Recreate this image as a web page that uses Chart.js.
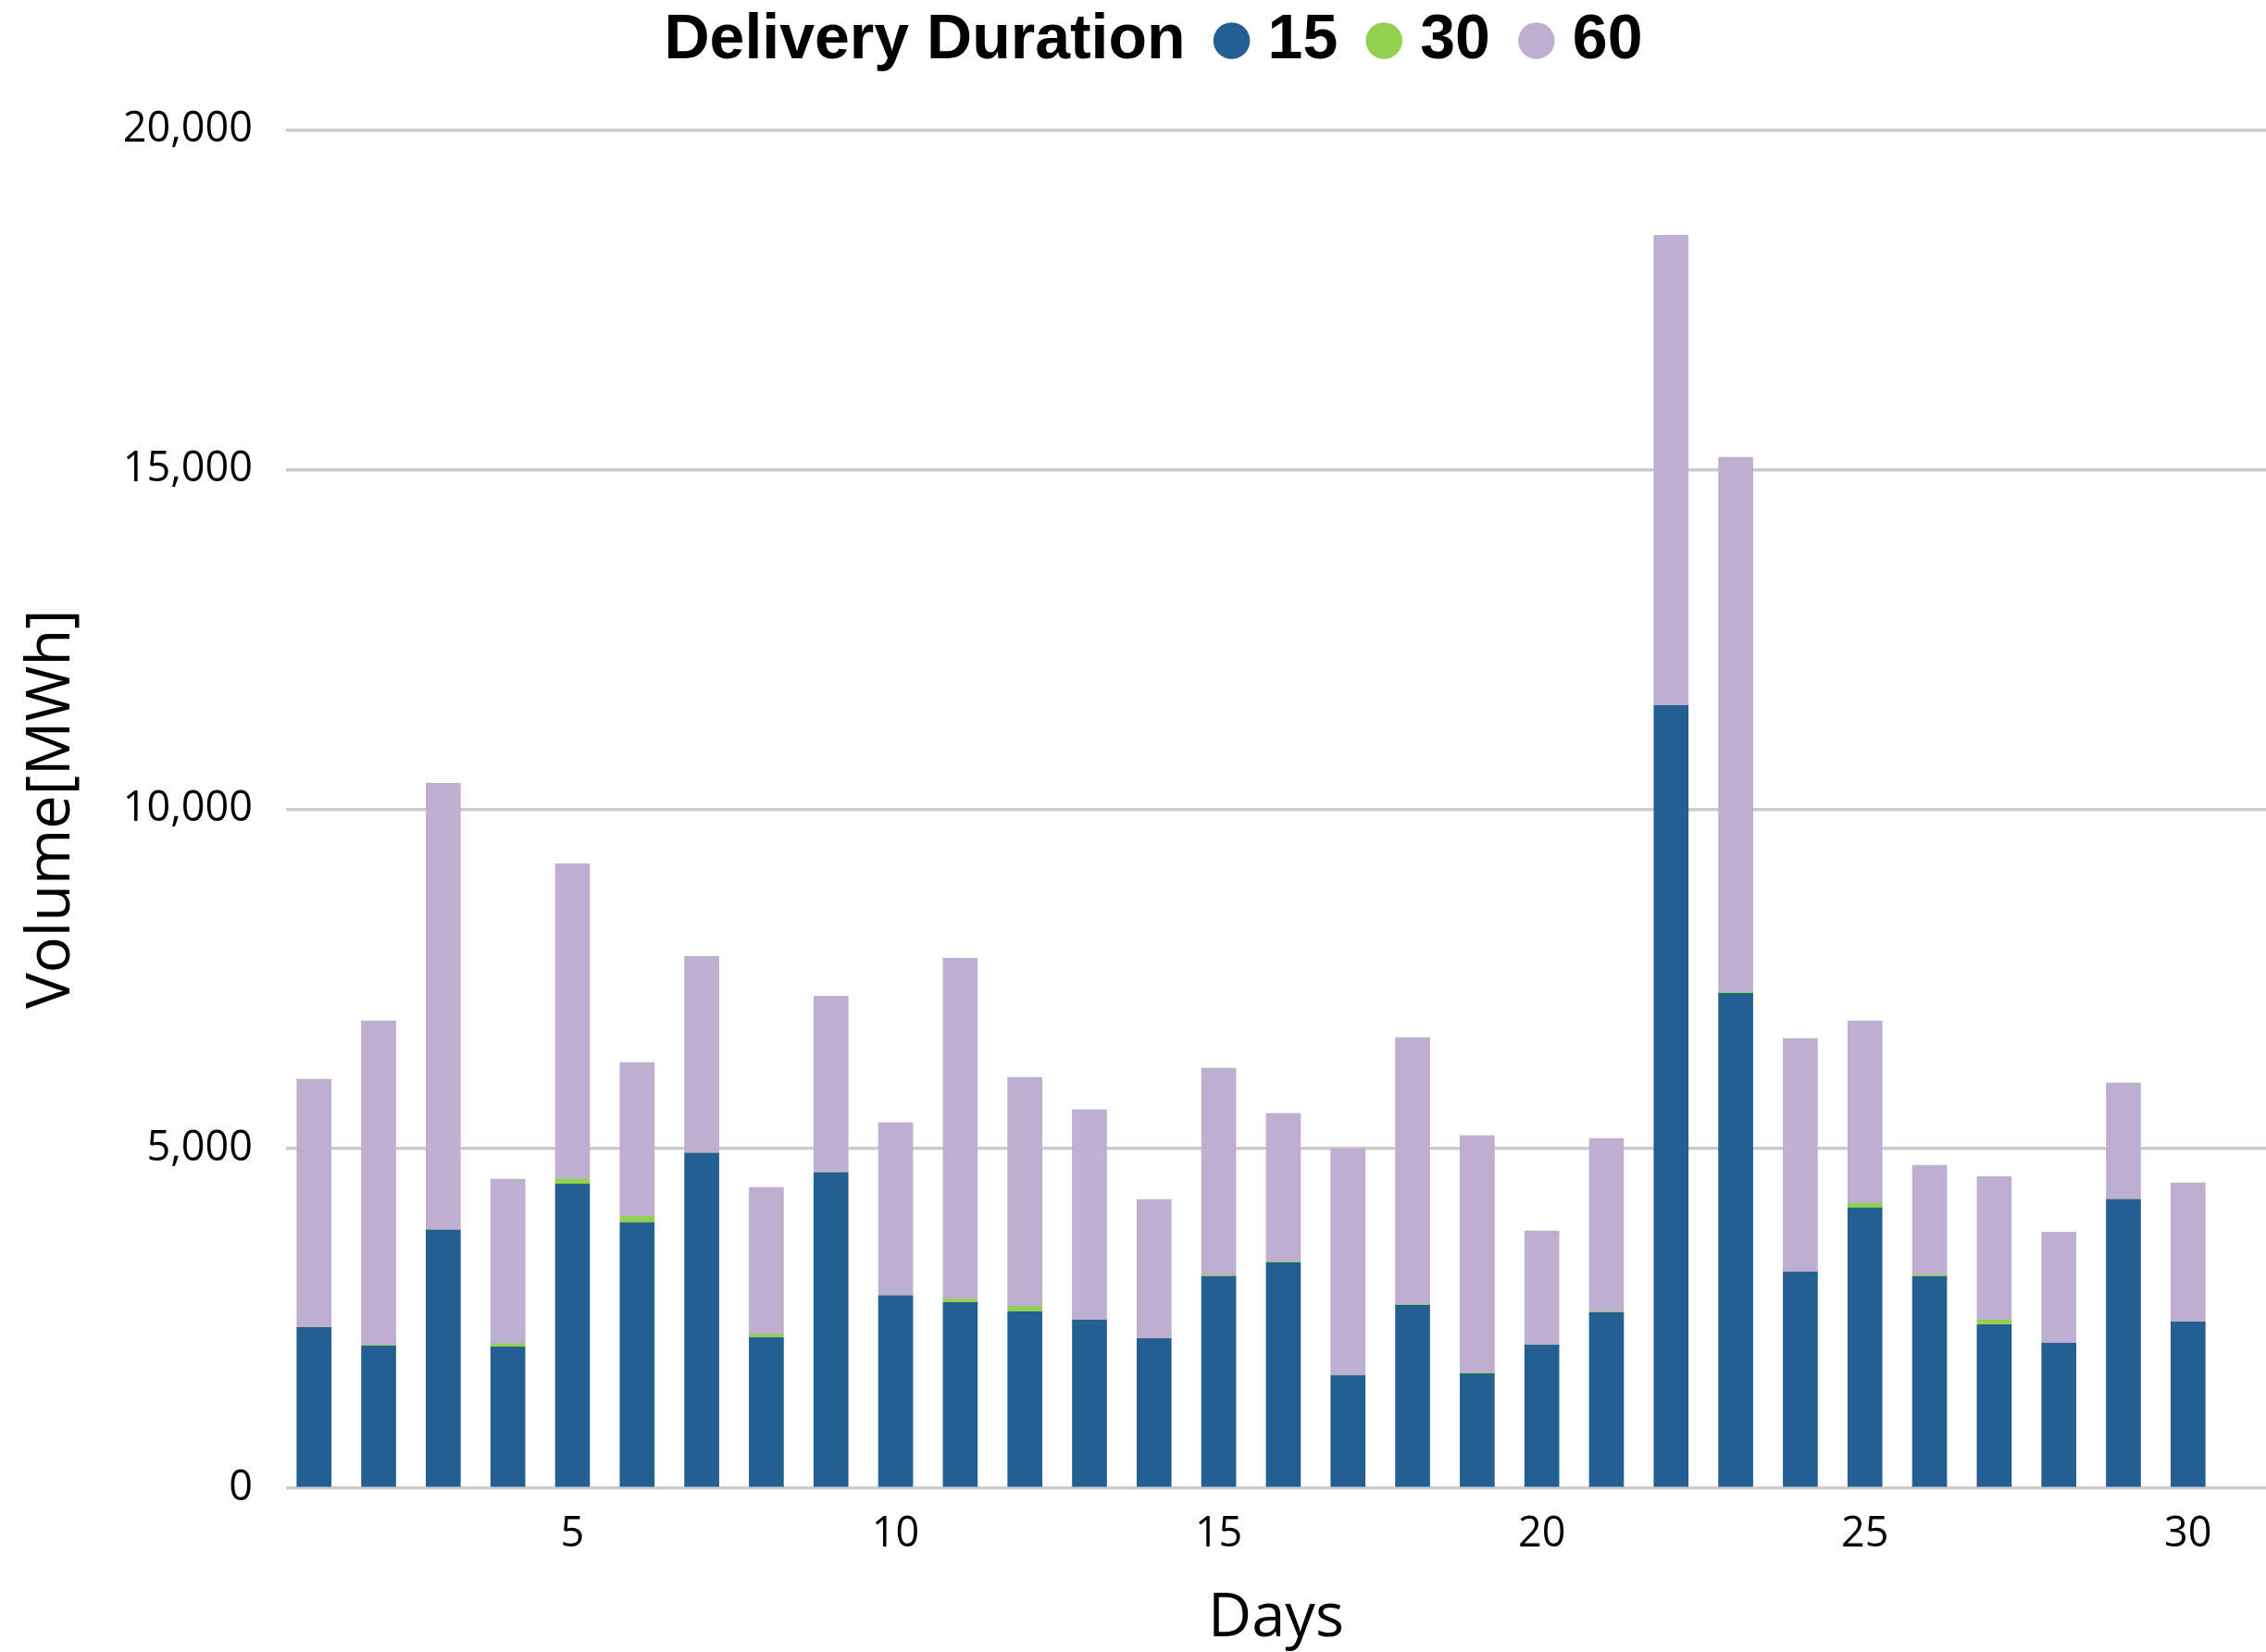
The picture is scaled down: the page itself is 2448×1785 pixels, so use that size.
<!DOCTYPE html>
<html>
<head>
<meta charset="utf-8">
<title>Delivery Duration</title>
<script src="https://cdn.jsdelivr.net/npm/chart.js@4.4.1/dist/chart.umd.min.js"></script>
<style>
  html, body { margin: 0; padding: 0; background: #fff; }
  #wrap { width: 2448px; height: 1785px; }
</style>
</head>
<body>
<div id="wrap"><canvas id="volumeChart"></canvas></div>
<script>
const days = [1, 2, 3, 4, 5, 6, 7, 8, 9, 10, 11, 12, 13, 14, 15, 16, 17, 18, 19, 20, 21, 22, 23, 24, 25, 26, 27, 28, 29, 30];

// volume per delivery duration (minutes), MWh
const dur15 = [2368, 2095, 3800, 2082, 4481, 3909, 4931, 2218, 4645, 2832, 2736, 2600, 2477, 2204, 3118,
               3322, 1659, 2695, 1686, 2109, 2586, 11526, 7286, 3186, 4127, 3118, 2409, 2136, 4250, 2450];
const dur30 = [0, 10, 0, 45, 73, 95, 0, 45, 0, 0, 45, 77, 0, 0, 15,
               15, 0, 12, 12, 0, 12, 0, 15, 0, 68, 18, 68, 0, 0, 0];
const dur60 = [3654, 4776, 6582, 2423, 4642, 2264, 2902, 2164, 2602, 2549, 5025, 3373, 3095, 2046, 3053,
               2181, 3341, 3929, 3492, 1677, 2552, 6924, 7879, 3436, 2686, 1618, 2113, 1636, 1718, 2045];

const dayTicks = [5, 10, 15, 20, 25, 30];
const volumeTicks = [0, 5000, 10000, 15000, 20000];
const legendTitle = 'Delivery Duration';

const ctx = document.getElementById('volumeChart');

// leave some room between the legend and the plot
const legendGap = {
  id: 'legendGap',
  afterInit(chart) {
    const fit = chart.legend.fit;
    chart.legend.fit = function () {
      fit.call(this);
      this.height += 52.5;
    };
  }
};

new Chart(ctx, {
  type: 'bar',
  data: {
    labels: days,
    datasets: [
      { label: '15', data: dur15, backgroundColor: '#245F92', borderWidth: 0 },
      { label: '30', data: dur30, backgroundColor: '#92D050', borderWidth: 0 },
      { label: '60', data: dur60, backgroundColor: '#BEAED0', borderWidth: 0 }
    ]
  },
  options: {
    responsive: true,
    maintainAspectRatio: false,
    animation: false,
    barThickness: 37,
    layout: { padding: { top: -35, left: 0, right: 0, bottom: 0 } },
    plugins: {
      tooltip: { enabled: false },
      legend: {
        position: 'top',
        align: 'center',
        onClick: null,
        labels: {
          color: '#000',
          font: { family: "'Liberation Sans'", size: 68, weight: 'bold' },
          usePointStyle: true,
          pointStyle: 'circle',
          boxWidth: 10,
          boxHeight: 28,
          padding: 45,
          generateLabels(chart) {
            const items = Chart.defaults.plugins.legend.labels.generateLabels(chart);
            items.unshift({
              text: legendTitle,
              fillStyle: 'rgba(0,0,0,0)',
              strokeStyle: 'rgba(0,0,0,0)',
              lineWidth: 0,
              pointStyle: 'circle',
              hidden: false
            });
            return items;
          }
        }
      }
    },
    scales: {
      x: {
        type: 'linear',
        stacked: true,
        offset: false,
        min: 0.567,
        max: 31.206,
        afterBuildTicks(scale) {
          scale.ticks = dayTicks.map(v => ({ value: v }));
        },
        afterFit(scale) {
          scale.height = 177;
        },
        grid: { display: false, drawTicks: false },
        border: { display: false },
        ticks: {
          color: '#000',
          padding: 23,
          font: { family: "'Open Sans'", size: 45 },
          maxRotation: 0,
          autoSkip: false
        },
        title: {
          display: true,
          text: 'Days',
          color: '#000',
          font: { family: "'Open Sans'", size: 65, lineHeight: 1.1 },
          padding: 0
        }
      },
      y: {
        stacked: true,
        min: 0,
        max: 20000,
        afterBuildTicks(scale) {
          scale.ticks = volumeTicks.map(v => ({ value: v }));
        },
        afterFit(scale) {
          scale.width = 309;
        },
        grid: { color: '#CCCCCC', lineWidth: 3.5, drawTicks: false },
        border: { display: false },
        ticks: {
          color: '#000',
          padding: 36,
          font: { family: "'Open Sans'", size: 45 },
          callback: v => v.toLocaleString('en-US')
        },
        title: {
          display: true,
          text: 'Volume[MWh]',
          color: '#000',
          font: { family: "'Open Sans'", size: 65, lineHeight: 1.1 },
          padding: { top: 21, bottom: 0 }
        }
      }
    }
  },
  plugins: [legendGap]
});
</script>
</body>
</html>
